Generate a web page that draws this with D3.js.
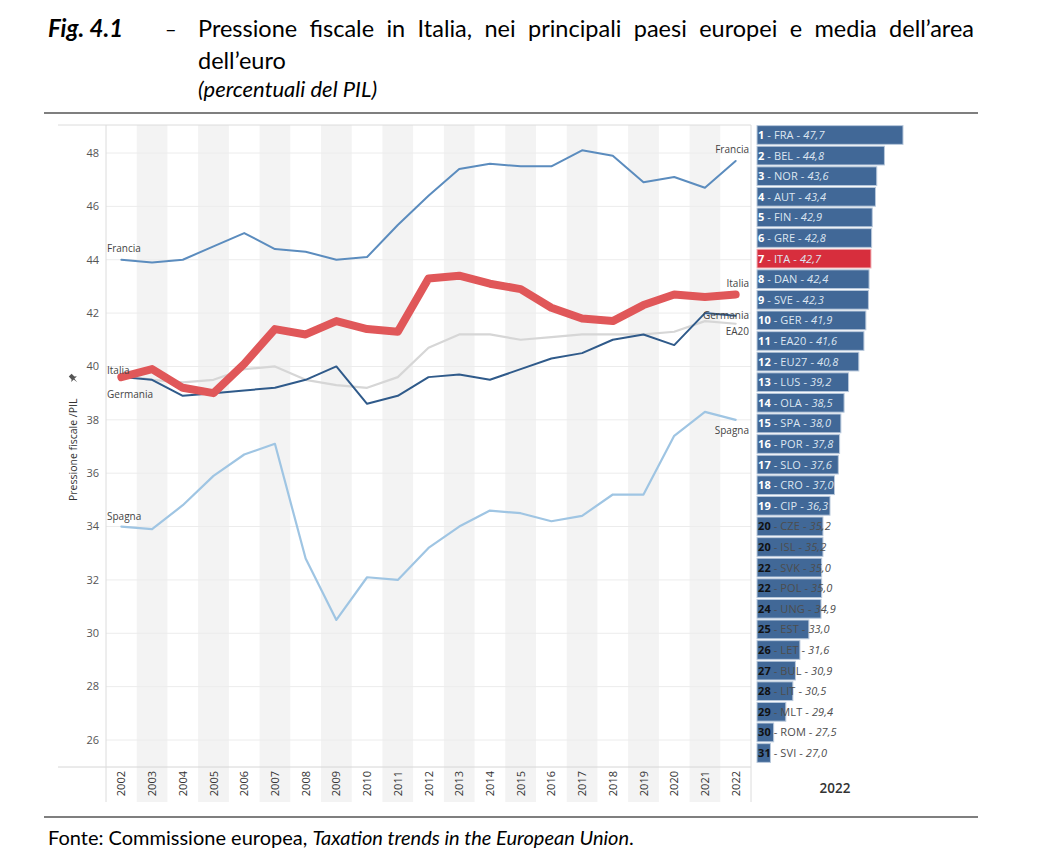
<!DOCTYPE html>
<html>
<head>
<meta charset="utf-8">
<script src="https://cdn.jsdelivr.net/npm/d3@7"></script>
<style>
  body { margin: 0; background: #fff; }
  svg text { font-family: "Open Sans", sans-serif; }
  svg text.doc { font-family: Lato, "Open Sans", sans-serif; }
</style>
</head>
<body>
<svg id="chart" width="1038" height="854"></svg>
<script>
// --- data ---
const years = d3.range(2002, 2023);
const francia = [44.0, 43.9, 44.0, 44.5, 45.0, 44.4, 44.3, 44.0, 44.1, 45.3, 46.4, 47.4, 47.6, 47.5, 47.5, 48.1, 47.9, 46.9, 47.1, 46.7, 47.7];
const italia = [39.6, 39.9, 39.2, 39.0, 40.1, 41.4, 41.2, 41.7, 41.4, 41.3, 43.3, 43.4, 43.1, 42.9, 42.2, 41.8, 41.7, 42.3, 42.7, 42.6, 42.7];
const germania = [39.6, 39.5, 38.9, 39.0, 39.1, 39.2, 39.5, 40.0, 38.6, 38.9, 39.6, 39.7, 39.5, 39.9, 40.3, 40.5, 41.0, 41.2, 40.8, 42.0, 41.9];
const ea20 = [39.7, 39.5, 39.4, 39.5, 39.9, 40.0, 39.5, 39.3, 39.2, 39.6, 40.7, 41.2, 41.2, 41.0, 41.1, 41.2, 41.2, 41.2, 41.3, 41.7, 41.6];
const spagna = [34.0, 33.9, 34.8, 35.9, 36.7, 37.1, 32.8, 30.5, 32.1, 32.0, 33.2, 34.0, 34.6, 34.5, 34.2, 34.4, 35.2, 35.2, 37.4, 38.3, 38.0];
const yTicks = d3.range(26, 49, 2);

const rankNums = [1, 2, 3, 4, 5, 6, 7, 8, 9, 10, 11, 12, 13, 14, 15, 16, 17, 18, 19, 20, 20, 22, 22, 24, 25, 26, 27, 28, 29, 30, 31];
const countries = ["FRA", "BEL", "NOR", "AUT", "FIN", "GRE", "ITA", "DAN", "SVE", "GER", "EA20", "EU27", "LUS", "OLA", "SPA", "POR", "SLO", "CRO", "CIP", "CZE", "ISL", "SVK", "POL", "UNG", "EST", "LET", "BUL", "LIT", "MLT", "ROM", "SVI"];
const values2022 = [47.7, 44.8, 43.6, 43.4, 42.9, 42.8, 42.7, 42.4, 42.3, 41.9, 41.6, 40.8, 39.2, 38.5, 38.0, 37.8, 37.6, 37.0, 36.3, 35.2, 35.2, 35.0, 35.0, 34.9, 33.0, 31.6, 30.9, 30.5, 29.4, 27.5, 27.0];

const series = [
  { name: "EA20", vals: ea20, color: "#d6d6d6", width: 2.2, left: null, right: [11] },
  { name: "Spagna", vals: spagna, color: "#9fc5e3", width: 2.2, left: [-7], right: [14] },
  { name: "Germania", vals: germania, color: "#2f5a8a", width: 2, left: [21], right: [3] },
  { name: "Francia", vals: francia, color: "#5b8cbe", width: 2, left: [-8], right: [-8] },
  { name: "Italia", vals: italia, color: "#e05759", width: 8, left: [-3], right: [-7] },
];

const svg = d3.select("#chart");
const fmt = d3.format(".1f");

// --- scales ---
const x = d3.scaleBand().domain(years).range([106, 751]).padding(0);
const y = d3.scaleLinear().domain([26, 48]).range([740, 153]);
const xb = d3.scaleLinear().domain([24.9, 47.7]).range([757, 903]);
const yb = d3.scaleBand().domain(countries).range([125, 763]).paddingInner(0.09).paddingOuter(0.03);

// --- title ---
svg.append("text").attr("class", "doc").attr("x", 48).attr("y", 37)
  .style("font-size", "24px").style("font-weight", "bold").style("font-style", "italic")
  .text("Fig. 4.1");
svg.append("text").attr("class", "doc").attr("x", 165).attr("y", 36)
  .style("font-size", "20px")
  .text("–");
const t1 = svg.append("text").attr("class", "doc").attr("x", 198).attr("y", 37)
  .style("font-size", "23.5px")
  .text("Pressione fiscale in Italia, nei principali paesi europei e media dell’area");
// justify the first line by word spacing, as in the document
const t1w = t1.node().getComputedTextLength();
const t1spaces = t1.text().split(" ").length - 1;
t1.style("word-spacing", `${(776 - t1w) / t1spaces}px`);
svg.append("text").attr("class", "doc").attr("x", 198).attr("y", 69)
  .style("font-size", "23.5px")
  .text("dell’euro");
svg.append("text").attr("class", "doc").attr("x", 198).attr("y", 97)
  .style("font-size", "22px").style("font-style", "italic")
  .text("(percentuali del PIL)");

// frame lines
svg.append("line").attr("x1", 44).attr("x2", 978).attr("y1", 113).attr("y2", 113)
  .style("stroke", "#555").style("stroke-width", 1.5);
svg.append("line").attr("x1", 44).attr("x2", 978).attr("y1", 817).attr("y2", 817)
  .style("stroke", "#555").style("stroke-width", 1.5);

// --- line pane ---
const pane = svg.append("g");
pane.selectAll("rect.band")
  .data(years.filter((d) => d % 2 === 1))
  .enter()
  .append("rect")
  .attr("class", "band")
  .attr("x", (d) => x(d))
  .attr("y", 125)
  .attr("width", x.bandwidth())
  .attr("height", 802 - 125)
  .style("fill", "#f3f3f3");

pane.selectAll("line.grid")
  .data(yTicks)
  .enter()
  .append("line")
  .attr("class", "grid")
  .attr("x1", 106).attr("x2", 751)
  .attr("y1", (d) => y(d)).attr("y2", (d) => y(d))
  .style("stroke", "#ececec");

pane.append("line").attr("x1", 58).attr("x2", 751).attr("y1", 125).attr("y2", 125).style("stroke", "#dcdcdc");
pane.append("line").attr("x1", 58).attr("x2", 751).attr("y1", 767).attr("y2", 767).style("stroke", "#d6d6d6");
pane.append("line").attr("x1", 106).attr("x2", 106).attr("y1", 125).attr("y2", 802).style("stroke", "#dcdcdc");
pane.append("line").attr("x1", 751).attr("x2", 751).attr("y1", 125).attr("y2", 802).style("stroke", "#dcdcdc");

pane.selectAll("text.ytick")
  .data(yTicks)
  .enter()
  .append("text")
  .attr("class", "ytick")
  .attr("x", 99)
  .attr("y", (d) => y(d))
  .attr("dy", "0.35em")
  .attr("text-anchor", "end")
  .style("font-size", "11px")
  .style("fill", "#555")
  .text((d) => d);

pane.selectAll("text.year")
  .data(years)
  .enter()
  .append("text")
  .attr("class", "year")
  .attr("transform", (d) => `translate(${x(d) + x.bandwidth() / 2 + 4}, 771) rotate(-90)`)
  .attr("text-anchor", "end")
  .style("font-size", "11px")
  .style("fill", "#333")
  .text((d) => d);

// y axis title with pin
const yt = pane.append("g").attr("transform", "translate(77, 501) rotate(-90)");
yt.append("text")
  .attr("x", 0).attr("y", 0)
  .style("font-size", "10.5px")
  .style("fill", "#333")
  .text("Pressione fiscale /PIL");
yt.append("path")
  .attr("transform", "translate(123, -4) rotate(45)")
  .attr("d", "M-2,-4 L2,-4 L2,0 L4,1.5 L-4,1.5 L-2,0 Z M-0.6,1.5 L0.6,1.5 L0,6 Z")
  .style("fill", "#555");

// lines
const line = d3.line()
  .x((d, i) => x(years[i]) + x.bandwidth() / 2)
  .y((d) => y(d));

pane.selectAll("path.series")
  .data(series)
  .enter()
  .append("path")
  .attr("class", "series")
  .attr("d", (d) => line(d.vals))
  .style("fill", "none")
  .style("stroke", (d) => d.color)
  .style("stroke-width", (d) => d.width)
  .style("stroke-linejoin", "round")
  .style("stroke-linecap", "round");

series.forEach((s) => {
  if (s.left) {
    pane.append("text")
      .attr("x", 107)
      .attr("y", y(s.vals[0]) + s.left[0])
      .style("font-size", "10px")
      .style("fill", "#444")
      .text(s.name);
  }
  if (s.right) {
    pane.append("text")
      .attr("x", 749)
      .attr("y", y(s.vals[s.vals.length - 1]) + s.right[0])
      .attr("text-anchor", "end")
      .style("font-size", "10px")
      .style("fill", "#444")
      .text(s.name);
  }
});

// --- bar pane ---
const bars = svg.append("g")
  .selectAll("g")
  .data(countries)
  .enter()
  .append("g")
  .attr("transform", (d) => `translate(0, ${yb(d)})`);

bars.append("rect")
  .attr("x", xb(24.9))
  .attr("width", (d, i) => xb(values2022[i]) - xb(24.9))
  .attr("height", yb.bandwidth())
  .style("fill", (d) => (d === "ITA" ? "#d72e3d" : "#416897"))
  .style("stroke", (d) => (d === "ITA" ? "#f0b0b5" : "#b9c9dc"))
  .style("stroke-width", 1);

const lbl = bars.append("text")
  .attr("x", 758)
  .attr("y", yb.bandwidth() / 2)
  .attr("dy", "0.36em")
  .style("font-size", "11px")
  .style("letter-spacing", "0.1px");
lbl.append("tspan")
  .style("font-weight", "bold")
  .style("fill", (d, i) => (rankNums[i] >= 20 ? "#111" : "#fff"))
  .text((d, i) => rankNums[i]);
lbl.append("tspan")
  .style("fill", (d, i) => (rankNums[i] >= 20 ? "#4d4d4d" : "#dde6f1"))
  .text((d) => ` - ${d} - `);
lbl.append("tspan")
  .style("font-style", "italic")
  .style("fill", (d, i) => (rankNums[i] >= 20 ? "#4d4d4d" : "#dde6f1"))
  .text((d, i) => fmt(values2022[i]).replace(".", ","));

svg.append("text")
  .attr("x", 835).attr("y", 793)
  .attr("text-anchor", "middle")
  .style("font-size", "13.5px")
  .style("font-weight", "600")
  .style("fill", "#333")
  .text("2022");

// --- source ---
const src = svg.append("text").attr("class", "doc").attr("x", 48).attr("y", 845)
  .style("font-size", "20px");
src.append("tspan").text("Fonte: Commissione europea, ");
src.append("tspan").style("font-style", "italic").text("Taxation trends in the European Union");
src.append("tspan").text(".");
</script>
</body>
</html>
